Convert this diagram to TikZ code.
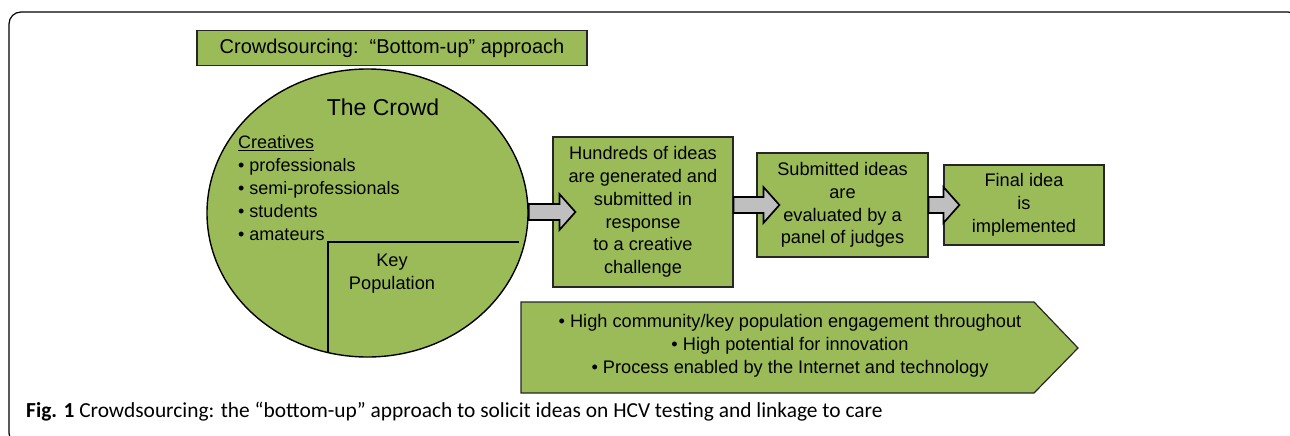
\documentclass[tikz,border=0pt]{standalone}
\usepackage{fontspec}
\setmainfont{Liberation Sans}
\newfontfamily\captionfont{Carlito}
\usetikzlibrary{shapes.geometric,calc}

\definecolor{crowdgreen}{HTML}{9BBB59}
\definecolor{arrowgray}{HTML}{BFBFBF}

\tikzset{
    greenbox/.style={draw=black!85, fill=crowdgreen, line width=1.2pt, align=center, inner sep=0pt},
    flowarrow/.style={draw=black, fill=arrowgray, line width=1.7pt, line join=miter},
    boxtext/.style={font=\fontsize{18.2}{22.8}\selectfont, align=center}
}

% block arrow from #1 to a tip #3 pt past #2
\newcommand{\blockarrow}[3]{%
    \draw[flowarrow] let \p1=(#1), \p2=($(#2)+(#3,0)$) in
        (\x1,{\y2+8pt}) -- ({\x2-16pt},{\y2+8pt}) -- ({\x2-16pt},{\y2+18pt}) -- (\x2,\y2)
        -- ({\x2-16pt},{\y2-18pt}) -- ({\x2-16pt},{\y2-8pt}) -- (\x1,{\y2-8pt}) -- cycle;}

\begin{document}
\begin{tikzpicture}[x=1pt, y=-1pt]

    \useasboundingbox (0,0) rectangle (1290,436);
    \clip (0,0) rectangle (1290,436);
    \draw[line width=1.2pt, rounded corners=12pt] (9,12) rectangle (1300,445);

    \node [greenbox, line width=1.8pt, minimum width=390, minimum height=35, font=\fontsize{20}{24}\selectfont] (title) at (392,48) {Crowdsourcing:~~“Bottom-up” approach};

    \node [ellipse, draw=black, fill=crowdgreen, line width=1.4pt, minimum width=321, minimum height=288] (crowd) at (367.5,213) {};
    \node [font=\fontsize{23}{26}\selectfont] (crowdlabel) at (383,107) {The Crowd};
    \node [font=\fontsize{18}{22.8}\selectfont, align=left, anchor=west, inner sep=0pt] (creatives) at (238,188) {\underline{Creatives}\\• professionals\\• semi-professionals\\• students\\• amateurs};

    \draw[line width=1.2pt] (328,353) -- (328,242) -- (519,242);
    \node [boxtext] (keypop) at (392,274) {Key\\Population};

    \node [greenbox, boxtext, minimum width=180, minimum height=150] (ideas) at (643,212) {Hundreds of ideas\\are generated and\\submitted in\\response\\to a creative\\challenge};
    \node [greenbox, boxtext, minimum width=171, minimum height=104] (judges) at (842.5,205) {Submitted ideas\\are\\evaluated by a\\panel of judges};
    \node [greenbox, boxtext, minimum width=160, minimum height=80] (final) at (1024,205) {Final idea\\is\\implemented};

    \blockarrow{crowd.east}{ideas.west}{23}
    \blockarrow{ideas.east}{judges.west}{23}
    \blockarrow{judges.east}{final.west}{16}

    \draw[draw=black!85, fill=crowdgreen, line width=1.2pt] (521,302) -- (1034,302) -- (1078,348) -- (1034,393) -- (521,393) -- cycle;
    \node [boxtext] (traits) at (790,346) {• High community/key population engagement throughout\\• High potential for innovation\\• Process enabled by the Internet and technology};

    \node [anchor=base west, inner sep=0pt, font=\captionfont\fontsize{21.4}{24}\selectfont] (caption) at (26,417) {\textbf{Fig. 1} Crowdsourcing: the “bottom-up” approach to solicit ideas on HCV testing and linkage to care};

\end{tikzpicture}
\end{document}
